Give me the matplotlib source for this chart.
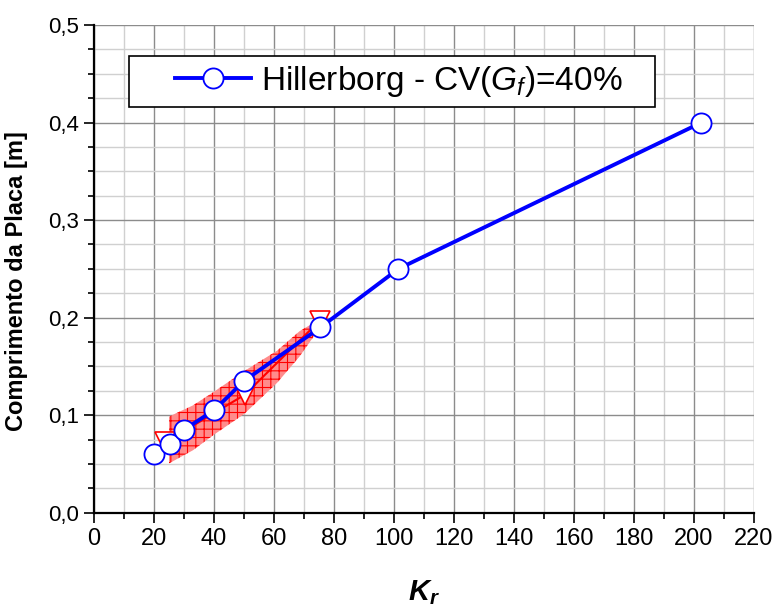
import matplotlib
matplotlib.use('Agg')
import matplotlib.pyplot as plt
from matplotlib.patches import Rectangle
from matplotlib.ticker import MultipleLocator, FuncFormatter

plt.rcParams['font.family'] = ['Liberation Sans', 'DejaVu Sans']
plt.rcParams['mathtext.fontset'] = 'custom'
plt.rcParams['mathtext.rm'] = 'Liberation Sans'
plt.rcParams['mathtext.it'] = 'Liberation Sans:italic'
plt.rcParams['mathtext.bf'] = 'Liberation Sans:bold'
plt.rcParams['mathtext.bfit'] = 'Liberation Sans:bold:italic'
plt.rcParams['hatch.linewidth'] = 0.8

# Hillerborg curve, CV(Gf)=40%
kr = [20, 25.5, 30, 40, 50, 75.5, 101.5, 202.5]
comprimento = [0.060, 0.070, 0.085, 0.105, 0.135, 0.190, 0.250, 0.400]

# red mean values (triangles)
kr_media = [23.7, 50.3, 75.3]
comprimento_media = [0.072, 0.121, 0.197]

# red band limits
kr_faixa = [25, 33, 40, 50, 61, 68.5, 74]
faixa_inf = [0.0505, 0.064, 0.080, 0.101, 0.133, 0.160, 0.184]
faixa_sup = [0.0985, 0.110, 0.124, 0.145, 0.166, 0.186, 0.196]

fig = plt.figure(figsize=(7.73, 6.12), dpi=100)
ax = fig.add_axes([0.1216, 0.1623, 0.8538, 0.7969])

# band
ax.fill_between(kr_faixa, faixa_inf, faixa_sup, facecolor='#ff8c8c',
                edgecolor='red', hatch='++', linewidth=0, zorder=2)

# red mean line with triangles
ax.plot(kr_media, comprimento_media, color='red', lw=1.5, marker='v',
        markersize=14, markerfacecolor='white', markeredgecolor='red',
        markeredgewidth=1.2, zorder=3)

# blue curve
ax.plot(kr, comprimento, color='#0000ff', lw=2.8, marker='o', markersize=14.5,
        markerfacecolor='white', markeredgecolor='#0000ff', markeredgewidth=1.3,
        zorder=4, label=r'Hillerborg - CV($G_f$)=40%')

ax.set_xlim(0, 220)
ax.set_ylim(0, 0.5)
ax.xaxis.set_major_locator(MultipleLocator(20))
ax.xaxis.set_minor_locator(MultipleLocator(10))
ax.yaxis.set_major_locator(MultipleLocator(0.1))
ax.yaxis.set_minor_locator(MultipleLocator(0.025))
ax.yaxis.set_major_formatter(FuncFormatter(lambda v, p: f'{v:.1f}'.replace('.', ',')))

ax.grid(which='major', color='#8c8c8c', lw=1.0, zorder=0)
ax.grid(which='minor', color='#d0d0d0', lw=1.0, zorder=0)
ax.set_axisbelow(True)

for s in ['top', 'right']:
    ax.spines[s].set_visible(False)
for s in ['left', 'bottom']:
    ax.spines[s].set_linewidth(1.6)

ax.tick_params(which='major', direction='out', length=7, width=1.2)
ax.tick_params(which='minor', direction='out', length=4, width=1.2)
ax.tick_params(axis='x', labelsize=17, pad=4)
ax.tick_params(axis='y', labelsize=16, pad=4)

ax.set_ylabel('Comprimento da Placa [m]', fontsize=17, fontweight='bold')
ax.yaxis.set_label_coords(-0.1, 0.475)
ax.set_xlabel(r'$\mathbfit{K}_{\mathbfit{r}}$', fontsize=21, va='top')
ax.xaxis.set_label_coords(0.5, -0.135)

# legend box drawn separately so the entry sits inside with the same margins
ax.add_patch(Rectangle((0.053, 0.832), 0.797, 0.104, transform=ax.transAxes,
                       facecolor='white', edgecolor='black', lw=1.2, zorder=5))
leg = ax.legend(loc='center left', bbox_to_anchor=(0.122, 0.884),
                borderaxespad=0, fontsize=24, handlelength=2.3,
                handletextpad=0.3, borderpad=0, frameon=False)
leg.set_zorder(6)

fig.savefig('out.png', dpi=100)
